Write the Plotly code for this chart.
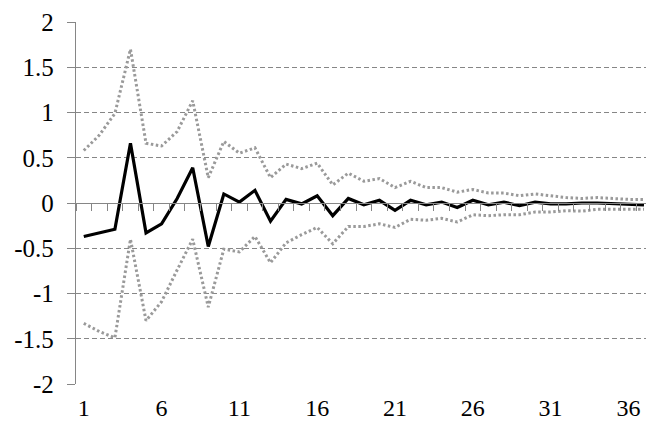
import plotly.graph_objects as go

periods = list(range(1, 38))
response = [-0.37, -0.33, -0.29, 0.66, -0.33, -0.23, 0.05, 0.39, -0.48, 0.10,
            0.01, 0.14, -0.20, 0.04, -0.01, 0.08, -0.14, 0.05, -0.02, 0.03,
            -0.08, 0.03, -0.02, 0.01, -0.05, 0.03, -0.02, 0.01, -0.03, 0.01,
            -0.01, -0.01, 0.0, 0.0, -0.005, -0.01, -0.02]
upper = [0.58, 0.75, 0.99, 1.70, 0.66, 0.63, 0.79, 1.13, 0.28, 0.68,
         0.55, 0.61, 0.28, 0.43, 0.38, 0.44, 0.20, 0.33, 0.24, 0.27,
         0.17, 0.24, 0.17, 0.17, 0.12, 0.15, 0.11, 0.11, 0.08, 0.10,
         0.08, 0.06, 0.05, 0.06, 0.05, 0.04, 0.04]
lower = [-1.33, -1.42, -1.49, -0.40, -1.30, -1.09, -0.74, -0.40, -1.15, -0.51,
         -0.54, -0.37, -0.66, -0.44, -0.35, -0.27, -0.45, -0.26, -0.26, -0.23,
         -0.27, -0.18, -0.19, -0.17, -0.21, -0.13, -0.14, -0.13, -0.13, -0.10,
         -0.10, -0.085, -0.09, -0.07, -0.07, -0.07, -0.07]

x_tick_vals = [1, 6, 11, 16, 21, 26, 31, 36]
x_tick_text = ["1", "6", "11", "16", "21", "26", "31", "36"]
y_tick_vals = [-2, -1.5, -1, -0.5, 0, 0.5, 1, 1.5, 2]
y_tick_text = ["-2", "-1.5", "-1", "-0.5", "0", "0.5", "1", "1.5", "2"]
boundaries = [p - 0.5 for p in periods] + [periods[-1] + 0.5]

GRAY = "#868686"
DOT = "#9a9a9a"
FONT = "Liberation Serif"
FS = 25

fig = go.Figure()
fig.add_trace(go.Scatter(x=periods, y=upper, mode="lines",
                         line=dict(color=DOT, width=3, dash="2.5px,2.5px"),
                         showlegend=False))
fig.add_trace(go.Scatter(x=periods, y=lower, mode="lines",
                         line=dict(color=DOT, width=3, dash="2.5px,2.5px"),
                         showlegend=False))
fig.add_trace(go.Scatter(x=periods, y=response, mode="lines",
                         line=dict(color="black", width=3.2),
                         showlegend=False))
# invisible trace on second x axis to activate it
fig.add_trace(go.Scatter(x=[periods[0]], y=[0], mode="markers", xaxis="x2",
                         marker=dict(opacity=0), showlegend=False,
                         hoverinfo="skip"))

xr = [0.5, 37.13]
fig.update_layout(
    width=646, height=425,
    margin=dict(l=76, r=0, t=22, b=41, autoexpand=False),
    paper_bgcolor="white", plot_bgcolor="white",
    font=dict(family=FONT, size=FS, color="black"),
    xaxis=dict(range=xr, tickmode="array", tickvals=x_tick_vals,
               ticktext=x_tick_text, showgrid=False, showline=False,
               zeroline=False, ticks="", ticklabelstandoff=7,
               automargin=False,
               tickfont=dict(family=FONT, size=24, color="black")),
    xaxis2=dict(range=xr, overlaying="x", anchor="free", position=0.5,
                side="bottom", tickmode="array", tickvals=boundaries,
                showticklabels=False, showgrid=False, zeroline=False,
                showline=True, linecolor=GRAY, linewidth=1.3,
                ticks="outside", ticklen=7, tickcolor=GRAY, tickwidth=1.2,
                automargin=False),
    yaxis=dict(range=[-2, 2], tickmode="array", tickvals=y_tick_vals,
               ticktext=y_tick_text, showgrid=True, gridcolor=GRAY,
               gridwidth=1, griddash="5px,3px", zeroline=False,
               showline=True, linecolor=GRAY, linewidth=1.3,
               ticks="outside", ticklen=8, tickcolor=GRAY, tickwidth=1.2,
               ticklabelstandoff=8, automargin=False,
               tickfont=dict(family=FONT, size=FS, color="black")),
)

fig.write_html("out.html")
